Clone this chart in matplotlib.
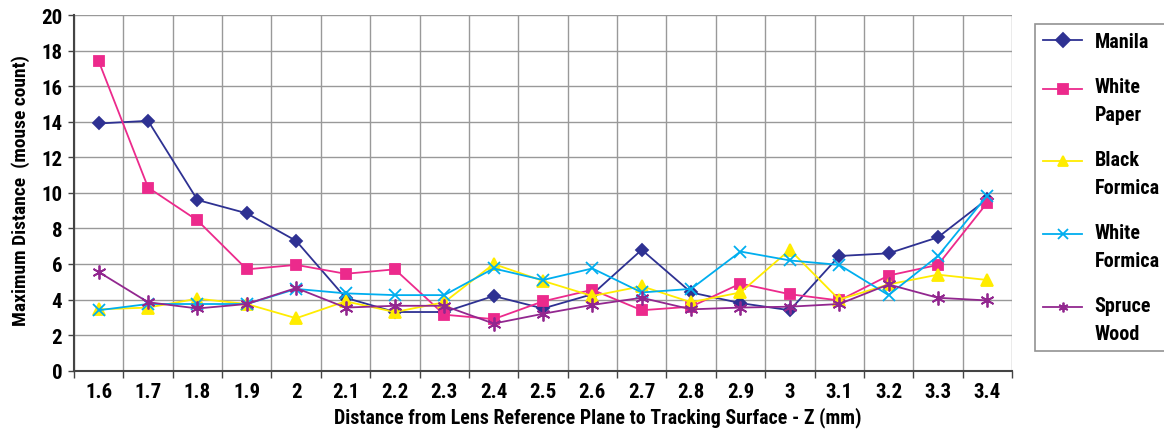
#!/usr/bin/env python3
"""Maximum tracking distance versus lens height for several surfaces."""

import matplotlib

matplotlib.use("Agg")
import matplotlib.pyplot as plt
from matplotlib import font_manager
from matplotlib.legend_handler import HandlerLine2D
import numpy as np

z_labels = ["1.6", "1.7", "1.8", "1.9", "2", "2.1", "2.2", "2.3", "2.4", "2.5",
            "2.6", "2.7", "2.8", "2.9", "3", "3.1", "3.2", "3.3", "3.4"]

manila = [13.9, 14.05, 9.6, 8.85, 7.3, 4.1, 3.3, 3.3, 4.2, 3.5,
          4.3, 6.8, 4.4, 3.8, 3.4, 6.45, 6.6, 7.5, 9.65]
white_paper = [17.4, 10.3, 8.45, 5.7, 5.95, 5.45, 5.7, 3.15, 2.9, 3.9,
               4.55, 3.4, 3.6, 4.9, 4.3, 3.95, 5.35, 5.95, 9.45]
black_formica = [3.45, 3.55, 4.05, 3.75, 2.95, 3.9, 3.3, 3.85, 6.0, 5.05,
                 4.2, 4.75, 3.85, 4.4, 6.8, 4.0, 4.85, 5.4, 5.1]
white_formica = [3.4, 3.75, 3.75, 3.75, 4.6, 4.35, 4.25, 4.25, 5.75, 5.1,
                 5.75, 4.4, 4.6, 6.7, 6.2, 5.95, 4.25, 6.45, 9.85]
spruce_wood = [5.55, 3.85, 3.5, 3.75, 4.65, 3.55, 3.65, 3.65, 2.65, 3.2,
               3.7, 4.1, 3.45, 3.55, 3.6, 3.75, 4.85, 4.1, 3.95]

series = [
    ("Manila", manila, "#2E3192", "D", 6),
    ("White\nPaper", white_paper, "#EC2A8C", "s", 7),
    ("Black\nFormica", black_formica, "#FFEC00", "^", 8),
    ("White\nFormica", white_formica, "#00AEEF", "x", 9),
    ("Spruce\nWood", spruce_wood, "#92278F", (6, 2, 0), 10),
]


class FirstLineHandler(HandlerLine2D):
    """Put the legend sample next to the first line of a wrapped label."""

    def __init__(self, lift=0.0, **kw):
        super().__init__(**kw)
        self.lift = lift

    def create_artists(self, legend, orig_handle, xdescent, ydescent,
                       width, height, fontsize, trans):
        return super().create_artists(legend, orig_handle, xdescent,
                                      ydescent - 2 * self.lift * fontsize,
                                      width, height, fontsize, trans)


# narrow bold face, closest to the condensed font of the original
names = {f.name for f in font_manager.fontManager.ttflist}
narrow = [n for n in ("Roboto Condensed", "Liberation Sans Narrow",
                      "Open Sans Condensed") if n in names]
if narrow:
    plt.rcParams["font.family"] = [narrow[0], "DejaVu Sans"]
else:
    plt.rcParams["font.family"] = ["DejaVu Sans"]
    plt.rcParams["font.stretch"] = "condensed"
plt.rcParams["font.weight"] = "bold"

fig = plt.figure(figsize=(11.64, 4.35), dpi=100)
ax = fig.add_axes([0.0636, 0.1455, 0.8058, 0.8177])

x = np.arange(len(z_labels))
lines = []
for name, vals, color, marker, ms in series:
    ln, = ax.plot(x, vals, color=color, marker=marker, markersize=ms,
                  linewidth=1.3, markeredgewidth=1.3, label=name,
                  clip_on=False, zorder=3)
    lines.append(ln)

ax.set_xlim(-0.5, len(z_labels) - 0.5)
ax.set_ylim(0, 20)
ax.set_yticks(np.arange(0, 21, 2))
ax.set_xticks(x)
ax.set_xticklabels(z_labels)
ax.set_xticks(np.arange(-0.5, len(z_labels)), minor=True)
ax.tick_params(axis="x", which="major", length=0, pad=8, labelsize=15)
ax.tick_params(axis="x", which="minor", length=5, width=1, color="#444444")
ax.tick_params(axis="y", length=4.5, width=1, color="#444444", labelsize=15,
               pad=4)
ax.grid(axis="y", color="#999999", linewidth=1)
ax.grid(axis="x", which="minor", color="#999999", linewidth=1)
ax.set_axisbelow(True)

for side in ("top", "right"):
    ax.spines[side].set_visible(False)
for side in ("left", "bottom"):
    ax.spines[side].set_color("#444444")
    ax.spines[side].set_linewidth(1.5)

ax.set_xlabel("Distance from Lens Reference Plane to Tracking Surface - Z (mm)",
              fontsize=14.3, fontweight="bold")
ax.xaxis.set_label_coords(0.5586, -0.1)
ax.set_ylabel("Maximum Distance  (mouse count)", fontsize=14,
              fontweight="bold")
ax.yaxis.set_label_coords(-0.047, 0.51)

fs = 14.5
hmap = {ln: FirstLineHandler(lift=0.0 if "\n" not in ln.get_label() else 0.62)
        for ln in lines}
leg = fig.legend(handles=lines, loc="upper left",
                 bbox_to_anchor=(0.8892, 0.9425), frameon=True, fancybox=False,
                 handlelength=1.95, labelspacing=1.3, borderpad=0.4,
                 handletextpad=0.6, borderaxespad=0.0, handler_map=hmap,
                 prop={"weight": "bold", "size": fs})
for t in leg.get_texts():
    t.set_linespacing(1.58)
leg.get_frame().set_edgecolor("#777777")
leg.get_frame().set_linewidth(1.2)
for h in leg.legend_handles:
    h.set_markersize(7)

fig.savefig("out.png", dpi=100)
